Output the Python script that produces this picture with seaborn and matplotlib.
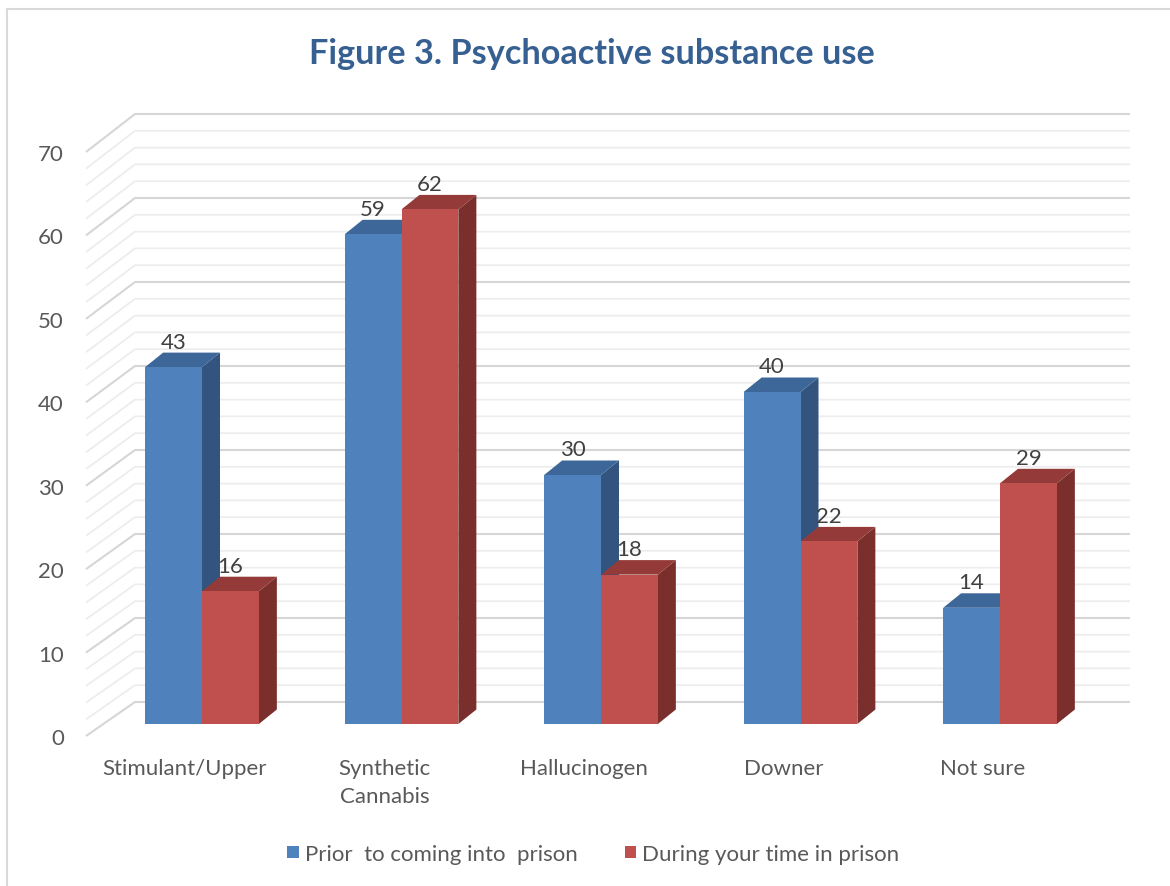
import matplotlib
matplotlib.use("Agg")
import matplotlib.pyplot as plt
import pandas as pd
import seaborn as sns
from matplotlib.patches import Polygon, Patch
from matplotlib.lines import Line2D

# ---- data -------------------------------------------------------------
categories = ["Stimulant/Upper", "Synthetic\nCannabis", "Hallucinogen", "Downer", "Not sure"]
series_names = ["Prior  to coming into  prison", "During your time in prison"]
prior_values = [43, 59, 30, 40, 14]
during_values = [16, 62, 18, 22, 29]
y_ticks = [0, 10, 20, 30, 40, 50, 60, 70]
title = "Figure 3. Psychoactive substance use"

# ---- styling ----------------------------------------------------------
front_colors = ["#4F81BD", "#C0504D"]
top_colors = ["#3D6799", "#943B39"]
side_colors = ["#33547E", "#7A2F2D"]
text_color = "#595959"
title_color = "#376092"
grid_major = "#D6D6D6"
grid_minor = "#EDEDED"
FS = 16

sns.set_theme(style="white")
plt.rcParams["font.family"] = ["Lato", "DejaVu Sans"]

W, H, DPI = 1170, 887, 100
fig = plt.figure(figsize=(W / DPI, H / DPI), dpi=DPI)
ax = fig.add_axes([0, 0, 1, 1])

# canvas layout (pixels from the top-left corner)
X0, XS = 202.0, 199.5       # first category centre, category pitch
BASE, YS = 725.0, 8.3       # bar base line, pixels per unit
DXP, DYP = 18.0, 14.5       # bar depth offset


def px(x):
    return (x - X0) / XS


def py(y):
    return (BASE - y) / YS


df = pd.DataFrame({
    "category": categories * 2,
    "series": [series_names[0]] * len(categories) + [series_names[1]] * len(categories),
    "value": prior_values + during_values,
})

sns.barplot(data=df, x="category", y="value", hue="series", order=categories,
            hue_order=series_names, palette=front_colors, width=0.57,
            saturation=1, linewidth=0, legend=False, ax=ax, zorder=3)

ax.set_xlim(px(0), px(W))
ax.set_ylim(py(H), py(0))
ax.axis("off")

# ---- walls: side wall + back wall gridlines ----------------------------
x_front, x_back, x_right = 86.0, 135.0, 1130.0
front_base, front_scale = 737.0, 8.343
back_base, back_scale = 703.0, 8.4
for v in range(0, 71, 2):
    major = v % 10 == 0
    fy = front_base - front_scale * v
    by = back_base - back_scale * v
    ax.plot([px(x_front), px(x_back), px(x_right)], [py(fy), py(by), py(by)],
            color=grid_major if major else grid_minor,
            lw=1.5 if major else 1.3, solid_capstyle="butt", zorder=1)

for t in y_ticks:
    ax.text(px(64), py(front_base - front_scale * t + 2), str(t), ha="right",
            va="center", fontsize=FS, color=text_color)

# ---- 3D faces of the bars ---------------------------------------------
dx, dy = DXP / XS, DYP / YS
bars = [p for p in ax.patches]
for i, bar in enumerate(bars):
    s = i // len(categories)
    x, w, h = bar.get_x(), bar.get_width(), bar.get_height()
    bar.set_zorder(3 + s)
    z = 2.9 + s
    side = Polygon([(x + w, 0), (x + w + dx, dy), (x + w + dx, h + dy), (x + w, h)],
                   closed=True, facecolor=side_colors[s], edgecolor="none", zorder=z)
    top = Polygon([(x, h), (x + dx, h + dy), (x + w + dx, h + dy), (x + w, h)],
                  closed=True, facecolor=top_colors[s], edgecolor="none", zorder=z + 0.05)
    ax.add_patch(side)
    ax.add_patch(top)
    ax.text(x + w / 2, h + dy + 5 / YS, f"{h:.0f}", ha="center", va="baseline",
            fontsize=FS, color="#404040", zorder=6)

# ---- category labels --------------------------------------------------
for i, c in enumerate(categories):
    ax.text(i - 17 / XS, py(759), c, ha="center", va="top", fontsize=FS,
            color=text_color, linespacing=1.5)

# ---- title ------------------------------------------------------------
ax.text(px(592), py(54), title, ha="center", va="center", fontsize=24.7,
        fontweight="bold", color=title_color)

# ---- legend -----------------------------------------------------------
handles = [Patch(facecolor=c, edgecolor="none") for c in front_colors]
fig.legend(handles, series_names, loc="center", bbox_to_anchor=(593.5 / W, 1 - 855 / H),
           ncol=2, frameon=False, fontsize=FS, handlelength=0.5, handleheight=0.5,
           handletextpad=0.3, columnspacing=2.1, labelcolor=text_color)

# ---- chart border -----------------------------------------------------
fig.add_artist(Line2D([7 / W, 7 / W], [0, 1 - 10 / H], color="#D9D9D9", lw=1.5,
                      transform=fig.transFigure))
fig.add_artist(Line2D([7 / W, 1], [1 - 10 / H, 1 - 10 / H], color="#D9D9D9", lw=1.5,
                      transform=fig.transFigure))

fig.savefig("out.png", dpi=DPI, facecolor="white")
